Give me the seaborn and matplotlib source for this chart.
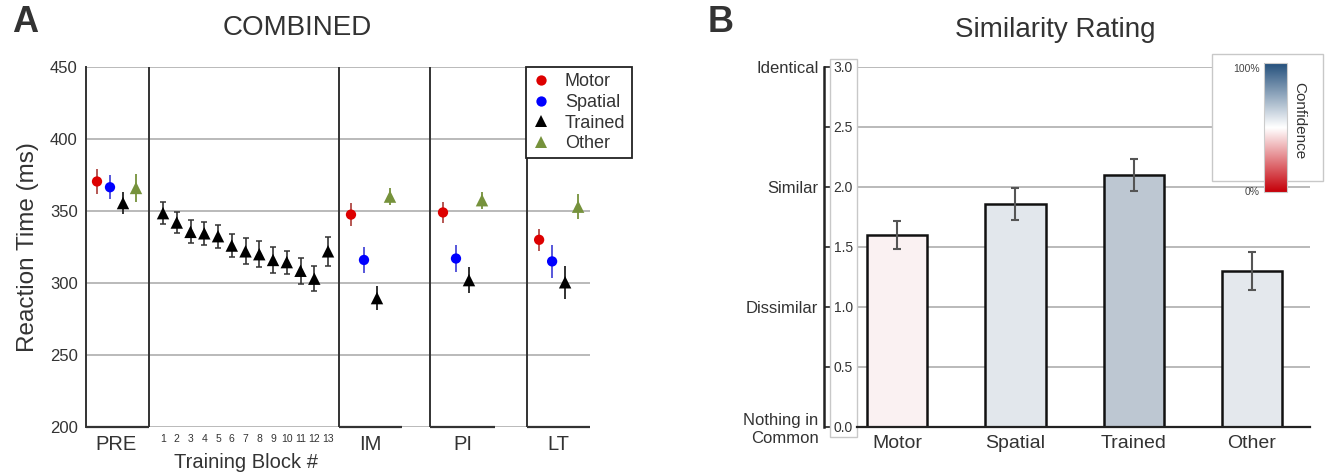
import numpy as np
import pandas as pd
import seaborn as sns
import matplotlib
matplotlib.use('Agg')
import matplotlib.pyplot as plt
import matplotlib.transforms as mtransforms
from matplotlib.colors import LinearSegmentedColormap
from matplotlib.patches import Rectangle
from matplotlib.cm import ScalarMappable

# ---- data: panel A (reaction time, ms) ----
conds = ['Motor', 'Spatial', 'Trained', 'Other']
phases = ['PRE', 'IM', 'PI', 'LT']
# order within each phase: Motor, Spatial, Trained, Other
pre_rt = [370.5, 366.5, 355.5, 366]
pre_err = [8.5, 8.5, 7.5, 9.5]
im_rt = [347.5, 316, 289.5, 360]
im_err = [8, 9, 8.5, 6]
pi_rt = [349, 317, 302, 357.5]
pi_err = [7.5, 9.5, 9, 6]
lt_rt = [330, 315, 300.5, 353]
lt_err = [7.5, 11.5, 11.5, 8.5]

blocks = list(range(1, 14))
block_rt = [348.5, 342, 335.5, 334.5, 332.5, 326, 322, 320, 316, 314.5, 308.5, 303, 322]
block_err = [7.5, 7, 8, 8, 8, 8, 9, 9, 9, 8, 9, 8.5, 10]

# ---- data: panel B (similarity rating) ----
sim_labels = ['Motor', 'Spatial', 'Trained', 'Other']
sim_mean = [1.60, 1.86, 2.10, 1.30]
sim_err = [0.12, 0.135, 0.135, 0.16]
sim_conf = [0.47, 0.57, 0.66, 0.565]
rating_words = ['Nothing in\nCommon', 'Dissimilar', 'Similar', 'Identical']

# ---- styling ----
sns.set_theme(style='white')
plt.rcParams['font.family'] = ['Liberation Sans', 'DejaVu Sans']
txt = '#333333'
plt.rcParams['text.color'] = txt
plt.rcParams['axes.labelcolor'] = txt
plt.rcParams['xtick.color'] = txt
plt.rcParams['ytick.color'] = txt

mark_col = {'Motor': '#dd0000', 'Spatial': '#0000ff', 'Trained': '#000000', 'Other': '#76923c'}
err_col = {'Motor': '#b04a45', 'Spatial': '#4a4ad8', 'Trained': '#222222', 'Other': '#76923c'}
markers = {'Motor': 'o', 'Spatial': 'o', 'Trained': '^', 'Other': '^'}

# layout of panel A along x (units of one training block)
phase_start = {'PRE': 0.8, 'IM': 19.27, 'PI': 25.96, 'LT': 32.95}
cond_step = 0.945
block_x0 = 4.6
separators = [4.58, 18.4, 25.02, 32.07]
base_segments = [(0, 4.58), (18.4, 22.98), (25.02, 29.75), (32.07, 36.65)]

rt_by_phase = {'PRE': (pre_rt, pre_err), 'IM': (im_rt, im_err),
               'PI': (pi_rt, pi_err), 'LT': (lt_rt, lt_err)}
rows = []
for ph in phases:
	vals, errs = rt_by_phase[ph]
	for i, c in enumerate(conds):
		rows.append([ph, c, phase_start[ph] + i * cond_step, vals[i], errs[i]])
for b, v, e in zip(blocks, block_rt, block_err):
	rows.append(['block', 'Trained', block_x0 + b, v, e])
df = pd.DataFrame(rows, columns=['phase', 'cond', 'x', 'rt', 'err'])

W, H = 1325, 474
fig = plt.figure(figsize=(W / 100, H / 100), dpi=100)

# ================= panel A =================
ax = fig.add_axes([86 / W, 47 / H, 504 / W, 360 / H])
for c in conds:
	d = df[(df.cond == c) & (df.phase != 'block')]
	ax.errorbar(d.x, d.rt, yerr=d.err, fmt='none', ecolor=err_col[c], elinewidth=1.3, capsize=0, zorder=3)
d = df[df.phase == 'block']
ax.errorbar(d.x, d.rt, yerr=d.err, fmt='none', ecolor='#333333', elinewidth=1.2, capsize=2.2, capthick=1.1, zorder=3)

sns.scatterplot(data=df, x='x', y='rt', hue='cond', style='cond', hue_order=conds, style_order=conds,
				palette=mark_col, markers=markers, size='cond',
				sizes={'Motor': 55, 'Spatial': 55, 'Trained': 80, 'Other': 80},
				linewidth=0, ax=ax, zorder=4)

ax.set_xlim(0, 36.65)
ax.set_ylim(200, 450)
ax.set_yticks(np.arange(200, 451, 50))
ax.yaxis.grid(True, color='#b4b4b4', linewidth=1.3)
ax.set_axisbelow(True)
for s in ['top', 'right', 'bottom']:
	ax.spines[s].set_visible(False)
ax.spines['left'].set_color('#333333')
ax.spines['left'].set_linewidth(1.4)
for sx in separators:
	ax.axvline(sx, color='#333333', linewidth=1.4, zorder=2)
for a, b in base_segments:
	ax.hlines(200, a, b, color='#333333', linewidth=1.6, zorder=2, clip_on=False)

ax.tick_params(axis='y', labelsize=12, length=3, width=1, pad=3)
centers = [phase_start[ph] + 1.5 * cond_step for ph in phases]
ax.set_xticks(centers)
ax.set_xticklabels(phases)
ax.tick_params(axis='x', which='major', length=0, labelsize=14.5, pad=6)
ax.set_xticks([block_x0 + b for b in blocks], minor=True)
ax.set_xticklabels([str(b) for b in blocks], minor=True)
ax.tick_params(axis='x', which='minor', direction='in', length=3, width=1, labelsize=7.5, pad=5)
ax.set_xlabel('')
ax.set_ylabel('Reaction Time (ms)', fontsize=17.5, labelpad=8)
trans = mtransforms.blended_transform_factory(ax.transData, fig.transFigure)
ax.text(block_x0 + 7, 1 - 462 / H, 'Training Block #', transform=trans, ha='center', va='center', fontsize=14.5)

handles, labels = ax.get_legend_handles_labels()
leg = ax.legend(handles, labels, loc='upper left', bbox_to_anchor=(0.873, 1.0), borderaxespad=0,
				fontsize=13, frameon=True, fancybox=False, edgecolor='#222222', framealpha=1,
				labelspacing=0.2, handlelength=1.0, handletextpad=0.8, borderpad=0.35)
leg.get_frame().set_linewidth(1.3)

fig.text(297.5 / W, 1 - 28 / H, 'COMBINED', ha='center', va='center', fontsize=20)
fig.text(12 / W, 1 - 23 / H, 'A', ha='left', va='center', fontsize=26, fontweight='bold')

# ================= panel B =================
cmap = LinearSegmentedColormap.from_list('conf', ['#c50009', '#ffffff', '#24507c'])
bar_cols = [cmap(v) for v in sim_conf]

axb = fig.add_axes([857 / W, 47 / H, 453 / W, 360 / H])
sns.barplot(x=sim_labels, y=sim_mean, hue=sim_labels, palette=bar_cols, legend=False,
			edgecolor='#111111', linewidth=1.8, width=0.51, errorbar=None, ax=axb, zorder=2)
axb.errorbar(range(len(sim_labels)), sim_mean, yerr=sim_err, fmt='none', ecolor='#555555',
			 elinewidth=1.5, capsize=3, capthick=1.5, zorder=3)
axb.set_xlim(-0.34, 3.49)
axb.set_ylim(0, 3)
axb.set_yticks(np.arange(0, 3.01, 0.5))
axb.set_yticklabels([f'{v:.1f}' for v in np.arange(0, 3.01, 0.5)])
axb.yaxis.grid(True, color='#b4b4b4', linewidth=1.3)
axb.set_axisbelow(True)
for s in ['top', 'right', 'left']:
	axb.spines[s].set_visible(False)
axb.spines['bottom'].set_color('#222222')
axb.spines['bottom'].set_linewidth(1.6)
axb.tick_params(axis='y', length=0, labelsize=10, pad=3)
axb.tick_params(axis='x', length=0, labelsize=14, pad=6)
axb.set_xlabel('')
axb.set_ylabel('')
axb.add_patch(Rectangle((-27 / 453, -10 / 360), 27 / 453, 378 / 360, transform=axb.transAxes,
						fill=False, edgecolor='#c8c8c8', linewidth=1, clip_on=False))

sec = axb.secondary_yaxis(-33 / 453)
sec.set_yticks(np.arange(0, 3.01, 0.5))
sec.set_yticklabels([rating_words[int(v)] if v == int(v) else '' for v in np.arange(0, 3.01, 0.5)])
sec.tick_params(direction='in', length=5, width=1.2, color='#222222', labelsize=12, pad=4)
sec.spines['left'].set_color('#222222')
sec.spines['left'].set_linewidth(1.8)

fig.text(1055 / W, 1 - 30 / H, 'Similarity Rating', ha='center', va='center', fontsize=20)
fig.text(708 / W, 1 - 23 / H, 'B', ha='left', va='center', fontsize=26, fontweight='bold')

# confidence colour bar inset
fig.add_artist(Rectangle((1212 / W, 1 - 181 / H), 111 / W, 127 / H, transform=fig.transFigure,
						 facecolor='white', edgecolor='#c8c8c8', linewidth=1, zorder=5))
cax = fig.add_axes([1264 / W, 1 - 192 / H, 23 / W, 129 / H], zorder=6)
cb = fig.colorbar(ScalarMappable(cmap=cmap), cax=cax)
cb.set_ticks([])
cb.outline.set_edgecolor('#cccccc')
cb.outline.set_linewidth(0.8)
cax.text(-0.2, 0.95, '100%', transform=cax.transAxes, ha='right', va='center', fontsize=7.5, color='#444444')
cax.text(-0.2, 0.0, '0%', transform=cax.transAxes, ha='right', va='center', fontsize=7.5, color='#444444')
cax.text(1.55, 0.55, 'Confidence', transform=cax.transAxes, ha='center', va='center',
		 rotation=270, fontsize=11)

fig.savefig('out.png', dpi=100)
